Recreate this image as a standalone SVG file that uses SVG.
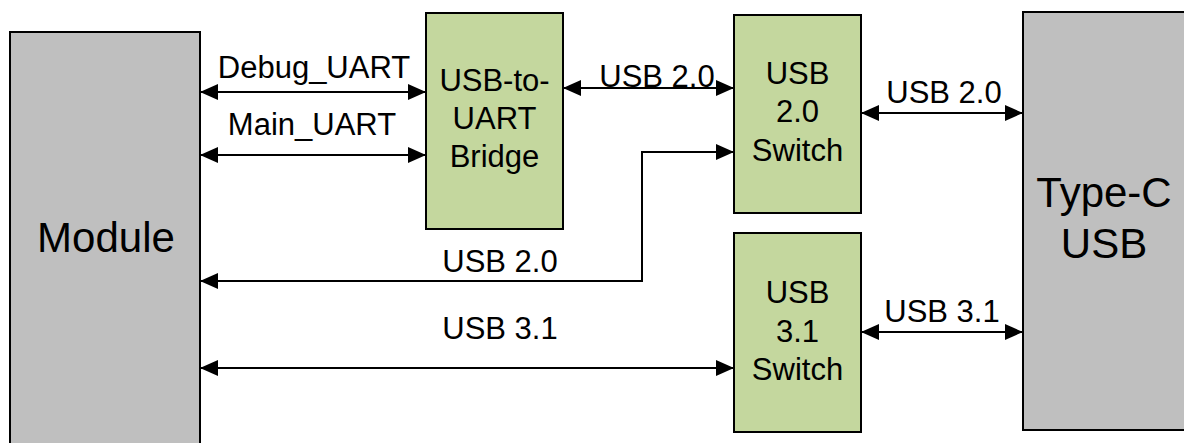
<svg xmlns="http://www.w3.org/2000/svg" width="1184" height="443" viewBox="0 0 1184 443">
<style>
.grey{fill:#BFBFBF;stroke:#000;stroke-width:2}
.green{fill:#C4D79E;stroke:#000;stroke-width:2}
text{font-family:"Liberation Sans",Arial,sans-serif;fill:#000}
.big{font-size:42px;text-anchor:middle}
.box{font-size:31px;text-anchor:middle}
.lbl{font-size:31px;text-anchor:middle}
.conn path{fill:none;stroke:#000;stroke-width:2;marker-start:url(#ah);marker-end:url(#ah)}
</style>
<defs>
<marker id="ah" markerUnits="userSpaceOnUse" markerWidth="18" markerHeight="16" refX="18" refY="8" orient="auto-start-reverse" viewBox="0 0 18 16">
<path d="M0,0 L18,8 L0,16 z" fill="#000"/>
</marker>
</defs>
<rect width="1184" height="443" fill="#fff"/>
<g id="module">
<rect class="grey" x="10" y="32" width="190" height="430"/>
<text class="big" x="106" y="252">Module</text>
</g>
<g id="bridge">
<rect class="green" x="426" y="13" width="137" height="216"/>
<text class="box" x="494.5" y="91">USB-to-</text>
<text class="box" x="494.5" y="129">UART</text>
<text class="box" x="494.5" y="167">Bridge</text>
</g>
<g id="usb20switch">
<rect class="green" x="734" y="15" width="127" height="198"/>
<text class="box" x="797.5" y="84">USB</text>
<text class="box" x="797.5" y="122">2.0</text>
<text class="box" x="797.5" y="161">Switch</text>
</g>
<g id="usb31switch">
<rect class="green" x="734" y="233" width="127" height="199"/>
<text class="box" x="797.5" y="303">USB</text>
<text class="box" x="797.5" y="342">3.1</text>
<text class="box" x="797.5" y="380">Switch</text>
</g>
<g id="typec">
<rect class="grey" x="1023" y="12" width="170" height="418"/>
<text class="big" x="1104" y="207">Type-C</text>
<text class="big" x="1104" y="258">USB</text>
</g>
<g id="connectors" class="conn">
<path d="M200,92 H426"/>
<path d="M200,155 H426"/>
<path d="M563,88 H734"/>
<path d="M861,113 H1023"/>
<path d="M200,281 H642 V152 H734"/>
<path d="M200,368 H734"/>
<path d="M861,332 H1023"/>
</g>
<g id="labels">
<text class="lbl" x="314" y="78">Debug_UART</text>
<text class="lbl" x="312" y="135">Main_UART</text>
<text class="lbl" x="657" y="87">USB 2.0</text>
<text class="lbl" x="944" y="103">USB 2.0</text>
<text class="lbl" x="500" y="272">USB 2.0</text>
<text class="lbl" x="500" y="339">USB 3.1</text>
<text class="lbl" x="942" y="322">USB 3.1</text>
</g>
</svg>
